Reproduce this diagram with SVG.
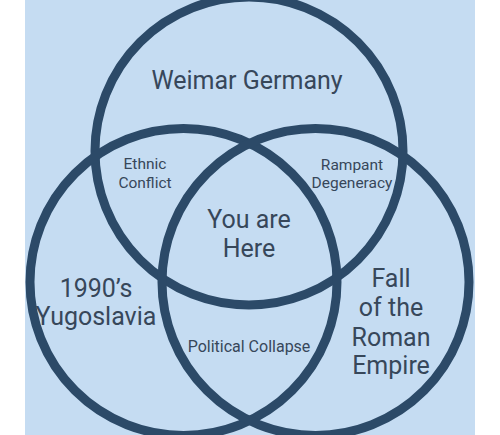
<svg xmlns="http://www.w3.org/2000/svg" width="500" height="435" viewBox="0 0 500 435">
<style>
.bg{fill:#c5dcf2}
.ring{fill:none;stroke:#2c4a68;stroke-width:9}
text{font-family:Roboto,"Liberation Sans",sans-serif;fill:#37475a;text-anchor:middle}
.big{font-size:25px}
.mid{font-size:25px}
.sm{font-size:15.5px}
.pc{font-size:16px}
</style>
<rect x="0" y="0" width="500" height="435" fill="#ffffff"/>
<rect class="bg" x="25" y="0" width="450" height="435"/>
<g id="circles">
<circle id="weimar-ring" class="ring" cx="249" cy="151" r="154"/>
<circle id="yugo-ring" class="ring" cx="183.5" cy="282" r="153.5"/>
<circle id="rome-ring" class="ring" cx="315.5" cy="282" r="153.5"/>
</g>
<g id="weimar"><text class="mid" x="247" y="89">Weimar Germany</text></g>
<g id="ethnic"><text class="sm" x="145" y="169">Ethnic</text><text class="sm" x="145" y="188">Conflict</text></g>
<g id="rampant"><text class="sm" x="352" y="170">Rampant</text><text class="sm" x="352" y="188">Degeneracy</text></g>
<g id="here"><text class="big" x="249" y="228">You are</text><text class="big" x="249" y="257">Here</text></g>
<g id="yugoslavia"><text class="big" x="96" y="297">1990’s</text><text class="big" x="96" y="325">Yugoslavia</text></g>
<g id="political"><text class="pc" x="249" y="352">Political Collapse</text></g>
<g id="rome"><text class="big" x="391" y="287">Fall</text><text class="big" x="391" y="316">of the</text><text class="big" x="391" y="346">Roman</text><text class="big" x="391" y="374">Empire</text></g>
</svg>
